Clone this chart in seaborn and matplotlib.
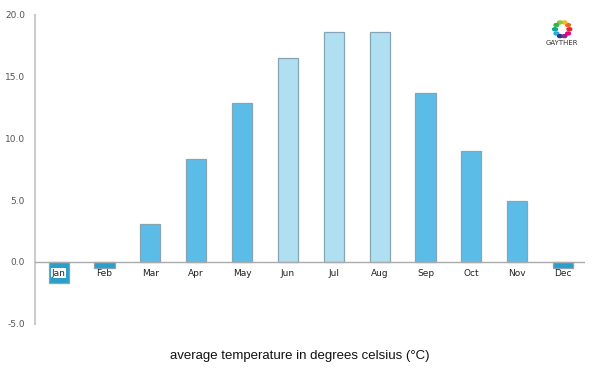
import matplotlib
matplotlib.use("Agg")
import matplotlib.pyplot as plt
import seaborn as sns
import pandas as pd
import numpy as np

months = ["Jan", "Feb", "Mar", "Apr", "May", "Jun", "Jul", "Aug", "Sep", "Oct", "Nov", "Dec"]
temps = [-1.7, -0.5, 3.1, 8.3, 12.9, 16.5, 18.6, 18.6, 13.7, 9.0, 4.9, -0.5]
yticks = [-5.0, 0.0, 5.0, 10.0, 15.0, 20.0]

sns.set_theme(style="white")
plt.rcParams["font.family"] = ["DejaVu Sans"]

def color_for(v, m):
    if v < 0:
        return "#2a9fcb"
    if m in ("Jun", "Jul", "Aug"):
        return "#b1dff2"
    return "#5bbde7"

df = pd.DataFrame({"month": months, "temp": temps})
palette = {m: color_for(v, m) for m, v in zip(months, temps)}

fig = plt.figure(figsize=(6, 3.75), dpi=100)
ax = fig.add_axes([0.058, 0.137, 0.917, 0.823])
sns.barplot(data=df, x="month", y="temp", hue="month", palette=palette,
            legend=False, width=0.44, edgecolor="#86a4b2", linewidth=0.9,
            saturation=1, ax=ax)

ax.set_xlim(-0.52, 11.48)
ax.set_ylim(-5, 20)
ax.set_yticks(yticks)
ax.set_yticklabels([f"{t:.1f}" for t in yticks], fontsize=6.5, color="#555555")
ax.tick_params(axis="y", length=0, pad=7)
ax.set_xticks([])
ax.set_xlabel("")
ax.set_ylabel("")
for s in ["top", "right", "bottom"]:
    ax.spines[s].set_visible(False)
ax.spines["left"].set_color("#cccccc")
ax.spines["left"].set_linewidth(1.5)
ax.axhline(0, color="#aaaaaa", linewidth=1.0, zorder=3)

for i, m in enumerate(months):
    kw = {}
    if m == "Jan":
        kw["bbox"] = dict(boxstyle="square,pad=0.1", fc="white", ec="none")
    ax.annotate(m, xy=(i, 0), xytext=(0, -8), textcoords="offset points",
                ha="center", va="center", fontsize=6.5, color="#222222",
                zorder=5, **kw)

fig.text(0.5, 0.052, "average temperature in degrees celsius (°C)",
         ha="center", va="center", fontsize=9.5, color="#111111",
         family="Liberation Sans")

# logo
logo_colors = ["#e8262d", "#f26522", "#fdb913", "#8dc63f", "#39b54a", "#00a99d",
               "#27aae1", "#2e3192", "#92278f", "#ec008c"]
ang = np.linspace(0, 2 * np.pi, len(logo_colors), endpoint=False)
lx, ly, r = 0.937, 0.922, 0.012
for a, c in zip(ang, logo_colors):
    fig.add_artist(plt.Circle((lx + r * np.cos(a), ly + r * np.sin(a) * 1.6), 0.004,
                              transform=fig.transFigure, color=c))
fig.text(lx, 0.885, "GAYTHER", ha="center", va="center", fontsize=5, color="#333333")

fig.savefig("out.png", dpi=100)
